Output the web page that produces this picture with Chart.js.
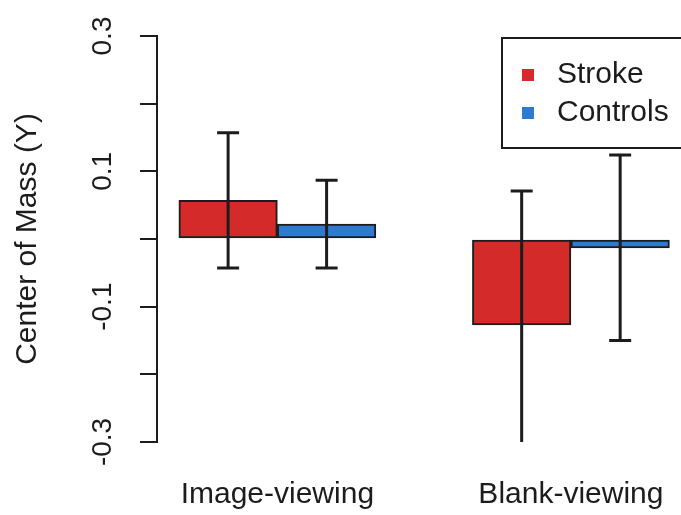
<!DOCTYPE html>
<html>
<head>
<meta charset="utf-8">
<script src="https://cdn.jsdelivr.net/npm/chart.js@4"></script>
<style>
  html, body { margin: 0; padding: 0; background: #fff; overflow: hidden; }
  #wrap { width: 681px; height: 515px; position: relative; }
</style>
</head>
<body>
<div id="wrap"><canvas id="com-chart"></canvas></div>
<script>
const categories = ['Image-viewing', 'Blank-viewing'];
const seriesNames = ['Stroke', 'Controls'];
const strokeMeans = [0.057, -0.127];
const strokeErrors = [0.100, 0.198];
const controlsMeans = [0.022, -0.013];
const controlsErrors = [0.065, 0.137];
const yTickValues = [-0.3, -0.1, 0.1, 0.3];
const yTickLabels = ['-0.3', '-0.1', '0.1', '0.3'];

const strokeColor = '#d42a2a';
const controlsColor = '#2c7bd1';
const inkColor = '#1c1c1c';
const fontSize = 30;

Chart.defaults.font.family = '"Liberation Sans", Arial, sans-serif';
Chart.defaults.color = inkColor;

function toPoints(means) {
  return categories.map((c, i) => ({ x: i, y: means[i] }));
}

// mean +/- error whiskers, clipped to the plot region like R does
const errorBars = {
  id: 'errorBars',
  afterDatasetsDraw(chart) {
    const { ctx, chartArea, scales } = chart;
    ctx.save();
    ctx.beginPath();
    ctx.rect(chartArea.left, chartArea.top, chartArea.right - chartArea.left, chartArea.bottom - chartArea.top);
    ctx.clip();
    ctx.strokeStyle = inkColor;
    ctx.lineWidth = 3;
    chart.data.datasets.forEach((ds, di) => {
      chart.getDatasetMeta(di).data.forEach((bar, i) => {
        const top = scales.y.getPixelForValue(ds.data[i].y + ds.errors[i]);
        const bottom = scales.y.getPixelForValue(ds.data[i].y - ds.errors[i]);
        ctx.beginPath();
        ctx.moveTo(bar.x, top);
        ctx.lineTo(bar.x, bottom);
        ctx.moveTo(bar.x - 11, top);
        ctx.lineTo(bar.x + 11, top);
        ctx.moveTo(bar.x - 11, bottom);
        ctx.lineTo(bar.x + 11, bottom);
        ctx.stroke();
      });
    });
    ctx.restore();
  }
};

// rotated y tick labels and the boxed legend
const extras = {
  id: 'extras',
  afterDraw(chart) {
    const { ctx, chartArea, scales } = chart;
    ctx.save();
    ctx.fillStyle = inkColor;
    ctx.font = '28px "Liberation Sans", Arial, sans-serif';
    ctx.textAlign = 'center';
    ctx.textBaseline = 'middle';
    yTickValues.forEach((v, i) => {
      ctx.save();
      ctx.translate(chartArea.left - 54, scales.y.getPixelForValue(v));
      ctx.rotate(-Math.PI / 2);
      ctx.fillText(yTickLabels[i], 0, 0);
      ctx.restore();
    });

    ctx.font = fontSize + 'px "Liberation Sans", Arial, sans-serif';
    ctx.fillStyle = '#fff';
    ctx.fillRect(502, 38, 220, 110);
    ctx.strokeStyle = inkColor;
    ctx.lineWidth = 2;
    ctx.strokeRect(502, 38, 220, 110);
    ctx.textAlign = 'left';
    chart.data.datasets.forEach((ds, i) => {
      const cy = 75 + i * 38;
      ctx.fillStyle = ds.backgroundColor;
      ctx.fillRect(522, cy - 6, 12, 12);
      ctx.fillStyle = inkColor;
      ctx.fillText(ds.label, 557, cy);
    });
    ctx.restore();
  }
};

new Chart(document.getElementById('com-chart'), {
  type: 'bar',
  data: {
    datasets: [
      {
        label: seriesNames[0],
        data: toPoints(strokeMeans),
        errors: strokeErrors,
        backgroundColor: strokeColor,
        borderColor: inkColor,
        borderWidth: 2,
        borderSkipped: false
      },
      {
        label: seriesNames[1],
        data: toPoints(controlsMeans),
        errors: controlsErrors,
        backgroundColor: controlsColor,
        borderColor: inkColor,
        borderWidth: 2,
        borderSkipped: false
      }
    ]
  },
  options: {
    responsive: true,
    maintainAspectRatio: false,
    animation: false,
    barThickness: 98.5,
    layout: { padding: { top: 36, right: 0, bottom: 0, left: 0 } },
    plugins: {
      legend: { display: false },
      tooltip: { enabled: false }
    },
    scales: {
      x: {
        type: 'linear',
        offset: false,
        bounds: 'data',
        min: -0.41,
        max: 1.375,
        afterBuildTicks: scale => {
          scale.ticks = categories.map((c, i) => ({ value: i }));
        },
        afterFit: scale => {
          scale.height = 73;
          scale.paddingLeft = 0;
          scale.paddingRight = 0;
        },
        ticks: {
          font: { size: fontSize },
          padding: 35,
          maxRotation: 0,
          autoSkip: false,
          callback: value => categories[value]
        },
        grid: { display: false, drawTicks: false, offset: false },
        border: { display: false }
      },
      y: {
        min: -0.3,
        max: 0.3,
        afterFit: scale => {
          scale.width = 157;
          scale.paddingTop = 0;
          scale.paddingBottom = 0;
        },
        ticks: { stepSize: 0.1, display: false },
        grid: {
          drawOnChartArea: false,
          drawTicks: true,
          tickLength: 17,
          color: inkColor,
          lineWidth: 2
        },
        border: { display: true, color: inkColor, width: 2 },
        title: {
          display: true,
          text: 'Center of Mass (Y)',
          font: { size: fontSize },
          padding: { top: 10, bottom: 0 }
        }
      }
    }
  },
  plugins: [errorBars, extras]
});
</script>
</body>
</html>
